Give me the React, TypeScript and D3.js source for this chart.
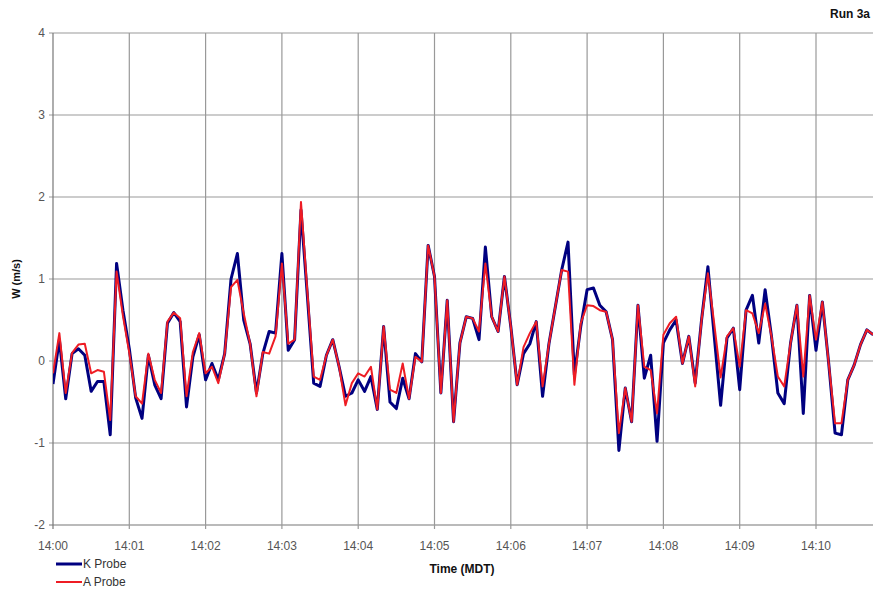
import React from "react";
import * as d3 from "d3";

const sampleSeconds = 5;
const xTickLabels = ["14:00","14:01","14:02","14:03","14:04","14:05","14:06","14:07","14:08","14:09","14:10"];
const yTicks = [-2, -1, 0, 1, 2, 3, 4];
const seriesNames = ["K Probe", "A Probe"];
const kProbe = [
  -0.28,0.26,-0.46,0.09,0.15,0.07,-0.37,-0.25,-0.25,-0.9,
  1.19,0.62,0.15,-0.45,-0.7,0.07,-0.29,-0.46,0.46,0.59,
  0.48,-0.56,0.05,0.32,-0.23,-0.03,-0.23,0.09,1.0,1.31,
  0.5,0.21,-0.39,0.09,0.36,0.34,1.31,0.13,0.26,1.84,
  0.8,-0.27,-0.31,0.07,0.26,-0.07,-0.43,-0.39,-0.23,-0.37,
  -0.19,-0.59,0.42,-0.5,-0.58,-0.21,-0.46,0.09,-0.01,1.41,
  1.03,-0.39,0.74,-0.74,0.22,0.54,0.52,0.26,1.39,0.54,
  0.36,1.03,0.42,-0.29,0.09,0.21,0.48,-0.43,0.21,0.66,
  1.11,1.45,-0.17,0.42,0.87,0.89,0.68,0.6,0.26,-1.09,
  -0.33,-0.74,0.68,-0.21,0.07,-0.98,0.22,0.38,0.5,-0.03,
  0.3,-0.27,0.5,1.15,0.3,-0.54,0.28,0.4,-0.35,0.62,
  0.8,0.22,0.87,0.3,-0.39,-0.52,0.22,0.68,-0.64,0.8,
  0.13,0.72,-0.03,-0.88,-0.9,-0.23,-0.05,0.2,0.38,0.32
];
const aProbe = [
  -0.15,0.34,-0.39,0.1,0.2,0.21,-0.15,-0.11,-0.13,-0.72,
  1.09,0.55,0.1,-0.43,-0.52,0.09,-0.23,-0.39,0.48,0.59,
  0.52,-0.43,0.11,0.34,-0.15,-0.07,-0.27,0.09,0.9,0.99,
  0.58,0.21,-0.43,0.11,0.09,0.3,1.19,0.21,0.26,1.94,
  0.85,-0.19,-0.23,0.07,0.26,-0.07,-0.54,-0.27,-0.15,-0.19,
  -0.07,-0.59,0.42,-0.35,-0.39,-0.03,-0.46,0.05,-0.01,1.41,
  1.03,-0.39,0.74,-0.74,0.22,0.54,0.52,0.36,1.19,0.54,
  0.36,1.03,0.42,-0.29,0.17,0.34,0.48,-0.31,0.21,0.66,
  1.11,1.09,-0.29,0.46,0.68,0.67,0.62,0.6,0.26,-0.88,
  -0.33,-0.74,0.68,-0.07,-0.11,-0.64,0.32,0.46,0.54,-0.03,
  0.3,-0.31,0.5,1.07,0.45,-0.2,0.3,0.4,-0.07,0.62,
  0.58,0.34,0.7,0.3,-0.19,-0.31,0.22,0.68,-0.19,0.8,
  0.26,0.72,-0.03,-0.76,-0.76,-0.23,-0.05,0.2,0.38,0.32
];

const W = 873, H = 592;
const left = 53, right = 873, top = 33, bottom = 525;
const font = "'Liberation Sans', Arial, sans-serif";

export default function App() {
  const x = d3.scaleLinear().domain([0, 600]).range([left, 816]);
  const y = d3.scaleLinear().domain([-2, 4]).range([bottom, top]);
  const line = d3.line<number>().x((_, i) => x(i * sampleSeconds)).y((d) => y(d));
  const xTicks = xTickLabels.map((_, i) => i * 60);
  return (
    <svg width={W} height={H} style={{ position: "absolute", left: 0, top: 0, background: "#fff" }}>
      <defs>
        <clipPath id="plot">
          <rect x={left} y={0} width={right - left} height={H} />
        </clipPath>
      </defs>
      {yTicks.map((t) => (
        <g key={"y" + t}>
          <line x1={left - 4} x2={right} y1={y(t)} y2={y(t)} stroke={t === -2 ? "#777" : "#999"} strokeWidth={1.2} />
          <text x={45} y={y(t) + 4} textAnchor="end" fontFamily={font} fontSize={12} fill="#555">{t}</text>
        </g>
      ))}
      {xTicks.map((t, i) => (
        <g key={"x" + t}>
          <line x1={x(t)} x2={x(t)} y1={top} y2={bottom + 4} stroke={i === 0 ? "#777" : "#999"} strokeWidth={1.2} />
          <text x={x(t)} y={550} textAnchor="middle" fontFamily={font} fontSize={12} fill="#555">{xTickLabels[i]}</text>
        </g>
      ))}
      <g clipPath="url(#plot)">
        <path d={line(kProbe) || ""} fill="none" stroke="#000080" strokeWidth={3} strokeLinejoin="round" />
        <path d={line(aProbe) || ""} fill="none" stroke="#ee1c24" strokeWidth={2} strokeLinejoin="round" />
      </g>
      <text x={870} y={18} textAnchor="end" fontFamily={font} fontSize={12} fontWeight="bold" fill="#111">Run 3a</text>
      <text transform="translate(20,279) rotate(-90)" textAnchor="middle" fontFamily={font} fontSize={11} fontWeight="bold" fill="#111">W (m/s)</text>
      <text x={462} y={573} textAnchor="middle" fontFamily={font} fontSize={12} fontWeight="bold" fill="#111">Time (MDT)</text>
      <line x1={56} x2={82} y1={564} y2={564} stroke="#000080" strokeWidth={3} />
      <text x={83} y={568} fontFamily={font} fontSize={12} fill="#333">{seriesNames[0]}</text>
      <line x1={56} x2={82} y1={582} y2={582} stroke="#ee1c24" strokeWidth={2} />
      <text x={83} y={586} fontFamily={font} fontSize={12} fill="#333">{seriesNames[1]}</text>
    </svg>
  );
}
